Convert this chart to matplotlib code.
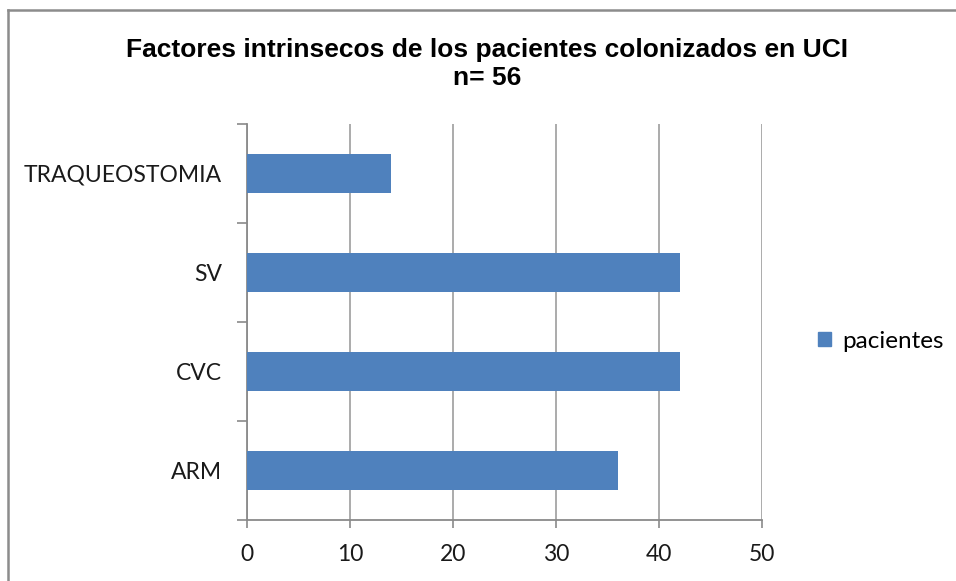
import matplotlib

matplotlib.use("Agg")
from matplotlib import pyplot as plt
from matplotlib.lines import Line2D
from matplotlib.patches import Patch

# data
categories = ["ARM", "CVC", "SV", "TRAQUEOSTOMIA"]
pacientes = [36, 42, 42, 14]
x_ticks = [0, 10, 20, 30, 40, 50]
title = "Factores intrinsecos de los pacientes colonizados en UCI\nn= 56"
series_label = "pacientes"

bar_color = "#4F81BD"
grid_color = "#A5A5A5"
axis_color = "#8A8A8A"
label_font = ["Lato", "DejaVu Sans"]

fig = plt.figure(figsize=(9.56, 5.81), dpi=100)
ax = fig.add_axes([0.2584, 0.105, 0.5388, 0.6816])

positions = list(range(len(categories)))
ax.barh(positions, pacientes, height=0.4, color=bar_color, zorder=3)

ax.set_xlim(0, 50)
ax.set_ylim(-0.5, len(categories) - 0.5)
ax.set_xticks(x_ticks)
ax.set_xticklabels([str(t) for t in x_ticks], family=label_font, fontsize=16.5, color="#1a1a1a")
ax.set_yticks(positions)
ax.set_yticklabels(categories, family=label_font, fontsize=16.5, color="#1a1a1a")
ax.set_yticks([p - 0.5 for p in range(len(categories) + 1)], minor=True)

ax.tick_params(axis="y", which="major", length=0, pad=18)
ax.tick_params(axis="y", which="minor", length=7, width=1.2, color=axis_color, direction="out")
ax.tick_params(axis="x", which="major", length=6, width=1.2, color=axis_color, direction="out", pad=11)

ax.grid(axis="x", color=grid_color, linewidth=1.3, zorder=0)
for side in ("top", "right"):
    ax.spines[side].set_visible(False)
for side in ("left", "bottom"):
    ax.spines[side].set_color(axis_color)
    ax.spines[side].set_linewidth(1.3)

fig.text(0.5095, 0.89, title, ha="center", va="center", fontsize=19, fontweight="bold",
         family=["Liberation Sans", "DejaVu Sans"], linespacing=1.17)

handle = Patch(facecolor=bar_color, edgecolor=bar_color)
fig.legend([handle], [series_label], loc="center left", bbox_to_anchor=(0.8556, 0.413),
           frameon=False, handlelength=0.55, handleheight=0.55, handletextpad=0.45,
           borderpad=0, borderaxespad=0, prop={"family": label_font, "size": 17.5})

# chart frame (only top and left edges are visible in the crop)
fig.add_artist(Line2D([0.0084, 1.0], [0.9835, 0.9835], color="#8C8C8C", linewidth=1.8))
fig.add_artist(Line2D([0.0084, 0.0084], [0.0, 0.9835], color="#8C8C8C", linewidth=1.8))

fig.savefig("out.png", dpi=100, facecolor="white")
